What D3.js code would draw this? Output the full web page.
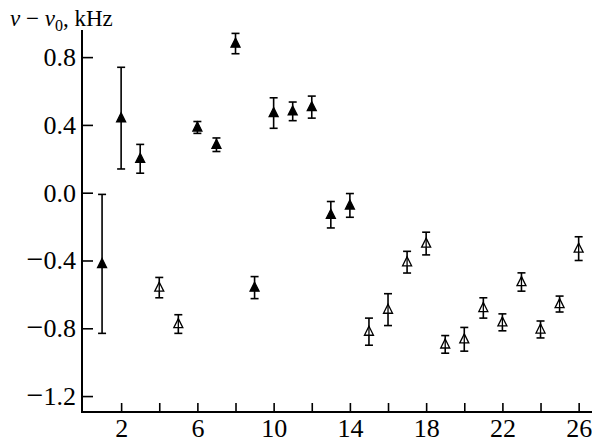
<!DOCTYPE html>
<html><head><meta charset="utf-8">
<script src="https://cdn.jsdelivr.net/npm/d3@7"></script>
<style>
html,body{margin:0;padding:0;background:#fff;}
svg{display:block;}
.tick text{font-family:'Liberation Serif','Times New Roman',serif;font-size:26px;}
</style>
</head><body>
<svg id="chart" width="592" height="446"></svg>
<script>
const runs    = [1,2,3,4,5,6,7,8,9,10,11,12,13,14,15,16,17,18,19,20,21,22,23,24,25,26];
const shifts  = [-0.42,0.44,0.20,-0.56,-0.775,0.385,0.283,0.88,-0.56,0.47,0.48,0.505,-0.13,-0.075,
                 -0.82,-0.69,-0.41,-0.30,-0.895,-0.865,-0.68,-0.765,-0.527,-0.807,-0.657,-0.33];
const errors  = [0.41,0.30,0.085,0.06,0.055,0.035,0.04,0.06,0.065,0.09,0.055,0.065,0.078,0.07,
                 0.08,0.094,0.064,0.067,0.052,0.07,0.06,0.05,0.054,0.05,0.047,0.07];
const filled  = [1,1,1,0,0,1,1,1,1,1,1,1,1,1,0,0,0,0,0,0,0,0,0,0,0,0];
const xTicks  = [2,4,6,8,10,12,14,16,18,20,22,24,26];
const xLabels = [2,6,10,14,18,22,26];
const yTicks  = [0.8,0.4,0.0,-0.4,-0.8,-1.2];

const svg = d3.select("#chart");
const font = "'Liberation Serif','Times New Roman',serif";
const x = d3.scaleLinear().domain([0, 26.7]).range([83, 592]);
const y = d3.scaleLinear().domain([-1.294, 0.96]).range([412, 30]);

// axes
const gx = svg.append("g").attr("transform","translate(0,412)")
  .call(d3.axisBottom(x).tickValues(xTicks).tickSize(-9).tickPadding(6.5)
        .tickFormat(d => xLabels.includes(d) ? d : ""));
const gy = svg.append("g").attr("transform","translate(82,0)")
  .call(d3.axisLeft(y).tickValues(yTicks).tickSize(-11).tickPadding(6)
        .tickFormat(d => d3.format(".1f")(Math.abs(d))));
[gx, gy].forEach(g => {
  g.attr("font-family", font).attr("font-size", 26);
  g.select(".domain").remove();
  g.selectAll(".tick line").attr("stroke","#000").attr("stroke-width",1.6);
  g.selectAll(".tick text").attr("fill","#000")
    .attr("font-family", font).attr("font-size", 26);
});
// long minus sign for negative y labels
gy.selectAll(".tick text").each(function(d) {
  if (d < 0) {
    const el = d3.select(this);
    const s = el.text();
    el.text("");
    el.append("tspan").attr("font-size", 30).style("font-size","30px").text("\u2212");
    el.append("tspan").text(s);
  }
});
// axis lines
svg.append("line").attr("x1",82).attr("x2",82).attr("y1",y.range()[1]).attr("y2",413)
  .attr("stroke","#000").attr("stroke-width",2);
svg.append("line").attr("x1",81).attr("x2",592).attr("y1",412).attr("y2",412)
  .attr("stroke","#000").attr("stroke-width",2);

// title
const t = svg.append("text").attr("x",10).attr("y",26)
  .attr("font-family",font).attr("font-size",23).attr("fill","#000");
t.append("tspan").style("font-style","italic").text("ν");
t.append("tspan").text(" − ");
t.append("tspan").style("font-style","italic").text("ν");
t.append("tspan").attr("dy",5).attr("font-size",16).text("0");
t.append("tspan").attr("dy",-5).text(", kHz");

// data
const data = runs.map((r,i) => ({r, v: shifts[i], e: errors[i], f: filled[i]}));
const g = svg.append("g");
const cap = 4;
data.forEach(d => {
  const cx = x(d.r), y1 = y(d.v + d.e), y2 = y(d.v - d.e);
  g.append("line").attr("x1",cx).attr("x2",cx).attr("y1",y1).attr("y2",y2)
    .attr("stroke","#000").attr("stroke-width",1.6);
  [y1,y2].forEach(yy => g.append("line").attr("x1",cx-cap).attr("x2",cx+cap)
    .attr("y1",yy).attr("y2",yy).attr("stroke","#000").attr("stroke-width",1.6));
  const cy = y(d.v);
  const h = 9, w = 4.5;
  g.append("path")
    .attr("d", `M${cx},${cy-h*0.6}L${cx+w},${cy+h*0.4}L${cx-w},${cy+h*0.4}Z`)
    .attr("fill", d.f ? "#000" : "#fff")
    .attr("stroke","#000").attr("stroke-width",1.3);
  if (!d.f) {
    g.append("line").attr("x1",cx).attr("x2",cx).attr("y1",cy-h*0.6).attr("y2",cy+h*0.4)
      .attr("stroke","#000").attr("stroke-width",1.3);
  }
});
</script>
</body></html>
